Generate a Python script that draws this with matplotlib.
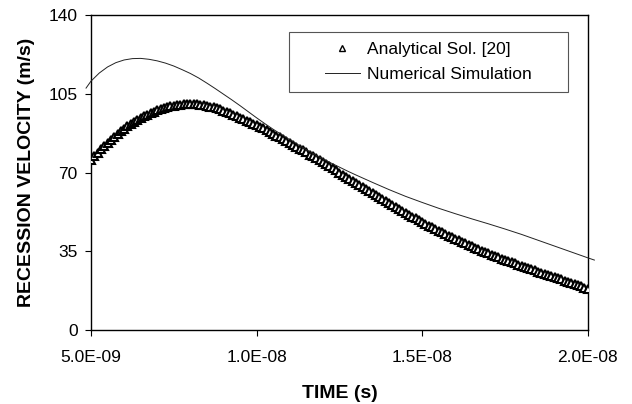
import numpy as np
import matplotlib
matplotlib.use("Agg")
import matplotlib.pyplot as plt
from matplotlib.patches import Rectangle
from matplotlib.ticker import FuncFormatter

plt.rcParams['font.family'] = ['Liberation Sans', 'DejaVu Sans']

# Analytical solution, one value every 0.1 ns from 5.0 ns to 20.0 ns
t_analytical = np.linspace(5.0e-9, 2.0e-8, 151)
v_analytical = [
    75.5, 77.2, 78.8, 80.3, 81.8, 83.2, 84.6, 85.9, 87.1, 88.3,
    89.4, 90.5, 91.5, 92.5, 93.4, 94.2, 95.0, 95.7, 96.4, 97.0,
    97.6, 98.1, 98.6, 99.0, 99.4, 99.7, 99.9, 100.1, 100.3, 100.4,
    100.4, 100.4, 100.3, 100.1, 99.9, 99.6, 99.3, 98.9, 98.5, 98.0,
    97.5, 96.9, 96.3, 95.7, 95.1, 94.4, 93.8, 93.1, 92.4, 91.7,
    91.0, 90.3, 89.6, 88.8, 88.0, 87.2, 86.4, 85.6, 84.8, 84.0,
    83.2, 82.3, 81.5, 80.6, 79.8, 78.9, 78.0, 77.2, 76.3, 75.4,
    74.5, 73.6, 72.7, 71.8, 70.9, 70.0, 69.1, 68.2, 67.3, 66.4,
    65.4, 64.5, 63.6, 62.7, 61.8, 60.9, 60.0, 59.1, 58.2, 57.3,
    56.4, 55.5, 54.6, 53.8, 52.9, 52.1, 51.2, 50.4, 49.6, 48.8,
    48.0, 47.2, 46.4, 45.6, 44.9, 44.1, 43.4, 42.7, 42.0, 41.3,
    40.6, 39.9, 39.2, 38.5, 37.8, 37.2, 36.5, 35.9, 35.3, 34.7,
    34.1, 33.5, 32.9, 32.3, 31.7, 31.2, 30.6, 30.1, 29.6, 29.0,
    28.5, 28.0, 27.5, 27.0, 26.5, 26.0, 25.5, 25.0, 24.5, 24.0,
    23.5, 23.0, 22.5, 22.0, 21.5, 21.0, 20.5, 20.0, 19.4, 18.9,
    18.4,
]

# Numerical simulation (times in ns)
t_numerical_ns = [
    4.85, 5.0, 5.25, 5.5, 5.75, 6.0, 6.25, 6.5, 6.75, 7.0,
    7.25, 7.5, 7.75, 8.0, 8.25, 8.5, 8.75, 9.0, 9.25, 9.5,
    9.75, 10.0, 10.25, 10.5, 10.75, 11.0, 11.25, 11.5, 11.75, 12.0,
    12.25, 12.5, 12.75, 13.0, 13.5, 14.0, 14.5, 15.0, 15.5, 16.0,
    16.5, 17.0, 17.5, 18.0, 18.5, 19.0, 19.5, 20.0, 20.2,
]
v_numerical = [
    107.5, 110.6, 114.2, 116.9, 118.8, 120.0, 120.6, 120.7, 120.3, 119.6,
    118.6, 117.3, 115.7, 114.0, 112.0, 109.7, 107.3, 104.8, 102.3, 99.7,
    97.0, 94.3, 91.7, 89.2, 86.9, 84.6, 82.4, 80.2, 78.1, 76.1,
    74.2, 72.4, 70.6, 68.9, 65.6, 62.4, 59.4, 56.7, 54.1, 51.7,
    49.4, 47.2, 44.9, 42.5, 39.9, 37.3, 34.7, 32.1, 31.1,
]

x_ticks = [5.0e-9, 1.0e-8, 1.5e-8, 2.0e-8]
y_ticks = [0, 35, 70, 105, 140]

fig = plt.figure(figsize=(6.32, 4.04), dpi=100)
ax = fig.add_axes([0.144, 0.183, 0.786, 0.780])

ax.plot(t_analytical, v_analytical, linestyle='none', marker='^',
        markersize=6.0, markerfacecolor='white', markeredgecolor='black',
        markeredgewidth=1.5, label='Analytical Sol. [20]', zorder=3)
ax.plot(np.array(t_numerical_ns) * 1e-9, v_numerical, color='#222222',
        linewidth=0.7, label='Numerical Simulation', clip_on=False, zorder=4)

ax.set_xlim(5.0e-9, 2.0e-8)
ax.set_ylim(0, 140)
ax.set_xticks(x_ticks)
ax.set_yticks(y_ticks)
ax.xaxis.set_major_formatter(FuncFormatter(lambda x, pos: f"{x:.1E}"))
ax.tick_params(direction='out', length=4.5, width=0.8, labelsize=12.5)
ax.tick_params(axis='x', pad=10)
ax.tick_params(axis='y', pad=5)
for s in ax.spines.values():
    s.set_linewidth(1.0)

ax.set_xlabel("TIME (s)", fontsize=14, fontweight='bold', labelpad=14)
ax.set_ylabel("RECESSION VELOCITY (m/s)", fontsize=14, fontweight='bold', labelpad=10)

# legend box drawn separately (wide side padding)
box = Rectangle((0.398, 0.756), 0.562, 0.190, transform=ax.transAxes,
                facecolor='white', edgecolor='#555555', linewidth=0.8, zorder=5)
ax.add_patch(box)
leg = ax.legend(loc='center', bbox_to_anchor=(0.679, 0.851), frameon=False,
                fontsize=12.5, numpoints=1, handlelength=2.0,
                handletextpad=0.4, labelspacing=0.55, borderaxespad=0)
leg.set_zorder(6)
leg.legend_handles[0].set_markersize(4)
leg.legend_handles[0].set_markeredgewidth(1.0)

fig.savefig("out.png", dpi=100)
